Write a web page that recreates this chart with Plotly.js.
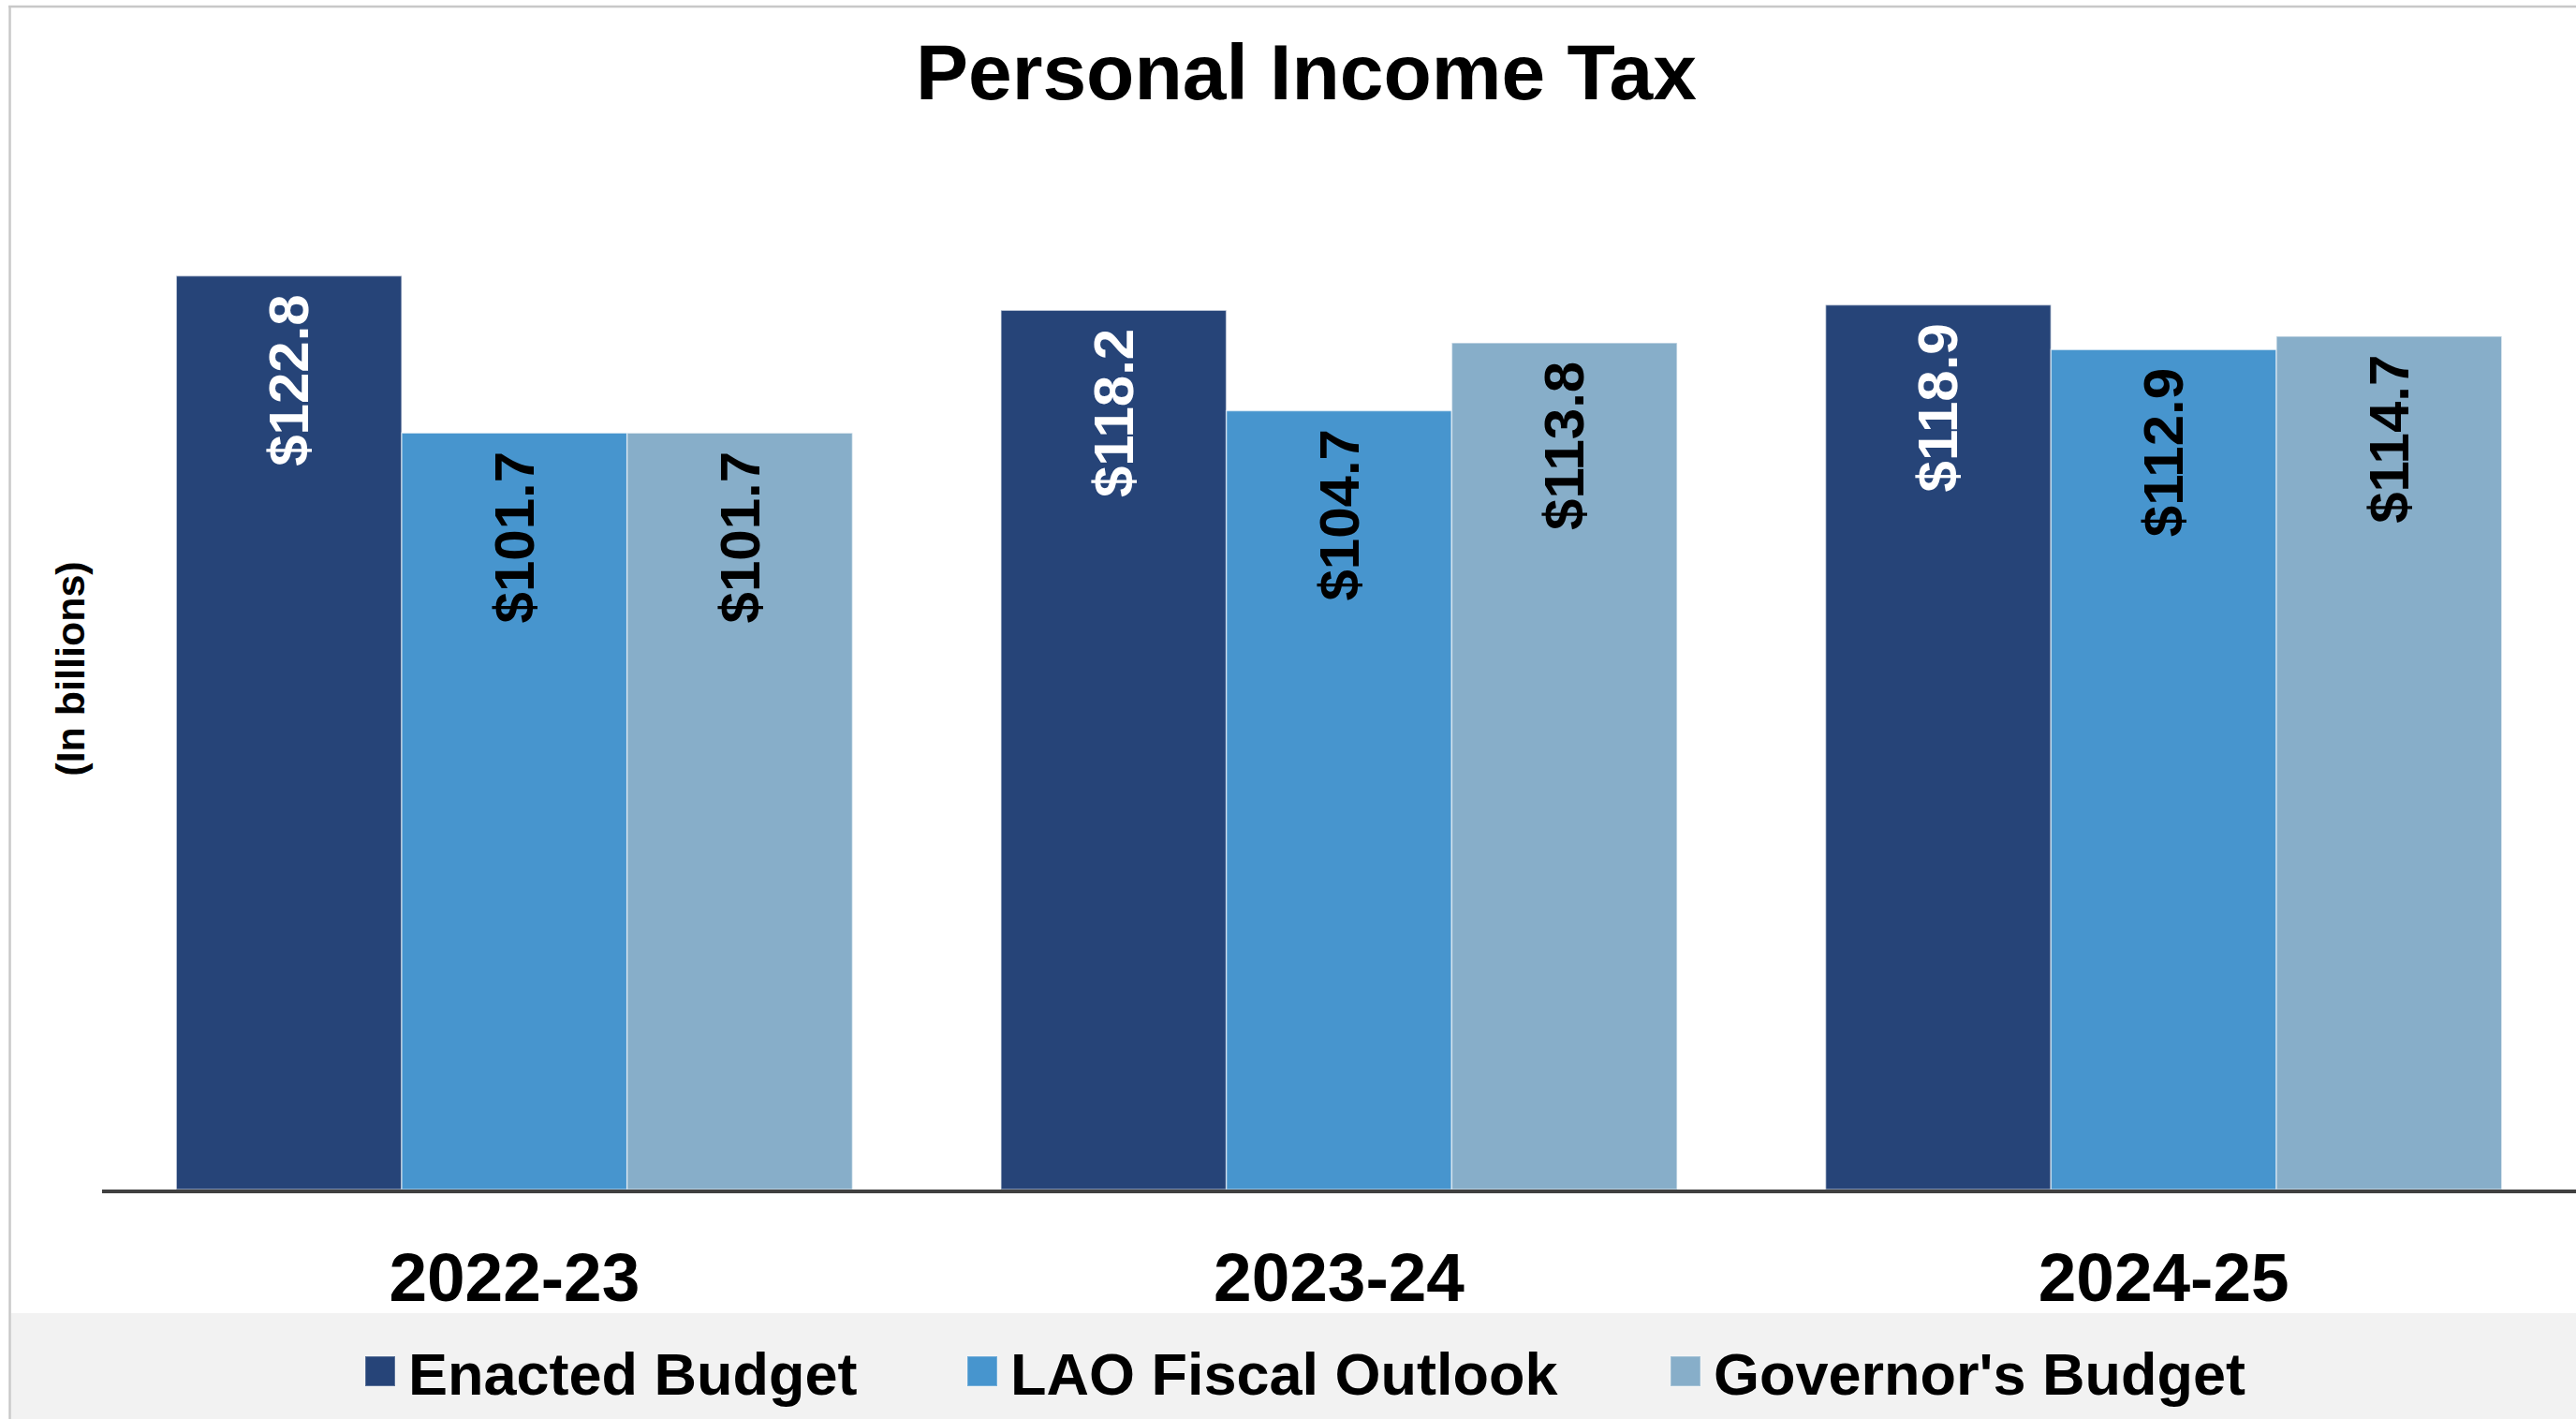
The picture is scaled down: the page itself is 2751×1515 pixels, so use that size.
<!DOCTYPE html>
<html>
<head>
<meta charset="utf-8">
<script src="https://cdn.plot.ly/plotly-3.0.1.min.js"></script>
<style>
  html, body { margin: 0; padding: 0; background: #ffffff; }
  #chart { width: 2751px; height: 1515px; }
</style>
</head>
<body>
<div id="chart"></div>
<script>
// ---- Data ----
const categories = ["2022-23", "2023-24", "2024-25"];
const seriesNames = ["Enacted Budget", "LAO Fiscal Outlook", "Governor's Budget"];
const enacted = [122.8, 118.2, 118.9];
const laoOutlook = [101.7, 104.7, 112.9];
const governors = [101.7, 113.8, 114.7];

const chartTitle = "Personal Income Tax";
const yTitle = "(In billions)";

// ---- Styling ----
const FONT = "Liberation Sans, Arial, Helvetica, sans-serif";
const colors = ["#264478", "#4795CE", "#87AEC9"];
const labelColors = ["#ffffff", "#000000", "#000000"];
const seriesValues = [enacted, laoOutlook, governors];
const legendIds = ["legend", "legend2", "legend3"];

const traces = seriesValues.map((vals, i) => ({
  type: "bar",
  name: seriesNames[i],
  x: categories,
  y: vals,
  legend: legendIds[i],
  showlegend: true,
  marker: { color: colors[i], line: { color: "rgba(255,255,255,0.55)", width: 1.5 } },
  texttemplate: "$%{y:.1f}\u00a0",
  textposition: "inside",
  insidetextanchor: "end",
  textangle: -90,
  textfont: { family: FONT, size: 60, weight: "bold", color: labelColors[i] },
  constraintext: "none",
  hoverinfo: "skip"
}));

function legendCfg(xpx) {
  return {
    visible: true,
    orientation: "h",
    xref: "container", x: xpx / 2751, xanchor: "left",
    yref: "container", y: 1 - 1464 / 1515, yanchor: "middle",
    bgcolor: "rgba(0,0,0,0)",
    borderwidth: 0,
    itemwidth: 50,
    font: { family: FONT, size: 63, weight: "bold", color: "#000000" }
  };
}

const plotL = 109, plotT = 158, plotB = 1270, W = 2751, H = 1515;
const plotW = W - plotL, plotH = plotB - plotT;
const px = (x) => (x - plotL) / plotW;
const py = (y) => (plotB - y) / plotH;

const layout = {
  width: W,
  height: H,
  showlegend: true,
  paper_bgcolor: "#ffffff",
  plot_bgcolor: "rgba(0,0,0,0)",
  margin: { l: plotL, r: 0, t: plotT, b: H - plotB, pad: 0 },
  font: { family: FONT, color: "#000000" },
  title: {
    text: chartTitle,
    font: { family: FONT, size: 84, weight: "bold", color: "#000000" },
    xref: "container", x: 1395 / W, xanchor: "center",
    yref: "container", y: 1 - 77 / H, yanchor: "middle"
  },
  barmode: "group",
  bargap: 0.18,
  bargroupgap: 0,
  xaxis: {
    type: "category",
    showline: true,
    linecolor: "#404040",
    linewidth: 4,
    ticks: "",
    showgrid: false,
    zeroline: false,
    ticklabelstandoff: 27,
    tickfont: { family: FONT, size: 73, weight: "bold", color: "#000000" }
  },
  yaxis: {
    range: [0, 140],
    showticklabels: false,
    ticks: "",
    showgrid: false,
    zeroline: false,
    showline: false,
    title: {
      text: yTitle,
      standoff: 3,
      font: { family: FONT, size: 43, weight: "bold", color: "#000000" }
    }
  },
  legend: legendCfg(376),
  legend2: legendCfg(1019),
  legend3: legendCfg(1770),
  shapes: [
    { type: "rect", xref: "paper", yref: "paper", layer: "below",
      x0: px(12), x1: px(W + 20), y0: py(H + 40), y1: py(1402),
      fillcolor: "#f2f2f2", line: { width: 0 } },
    { type: "line", xref: "paper", yref: "paper", layer: "below",
      x0: px(9), x1: px(W + 20), y0: py(7), y1: py(7),
      line: { color: "#c8c8c8", width: 2.5 } },
    { type: "line", xref: "paper", yref: "paper", layer: "below",
      x0: px(10.5), x1: px(10.5), y0: py(6), y1: py(H + 40),
      line: { color: "#c8c8c8", width: 2.5 } }
  ]
};

// Enlarge the legend squares (keeps Plotly's own centring transform)
function enlargeLegendSymbols() {
  document.querySelectorAll("#chart .legendpoints path").forEach((p) => {
    p.setAttribute("d", "M16,16H-16V-16H16Z");
    p.style.strokeWidth = "2px";
    p.style.stroke = "rgba(255,255,255,0.45)";
  });
}

Plotly.newPlot("chart", traces, layout, { staticPlot: true, displayModeBar: false })
  .then(() => {
    enlargeLegendSymbols();
    requestAnimationFrame(enlargeLegendSymbols);
    setTimeout(enlargeLegendSymbols, 50);
  });
</script>
</body>
</html>
